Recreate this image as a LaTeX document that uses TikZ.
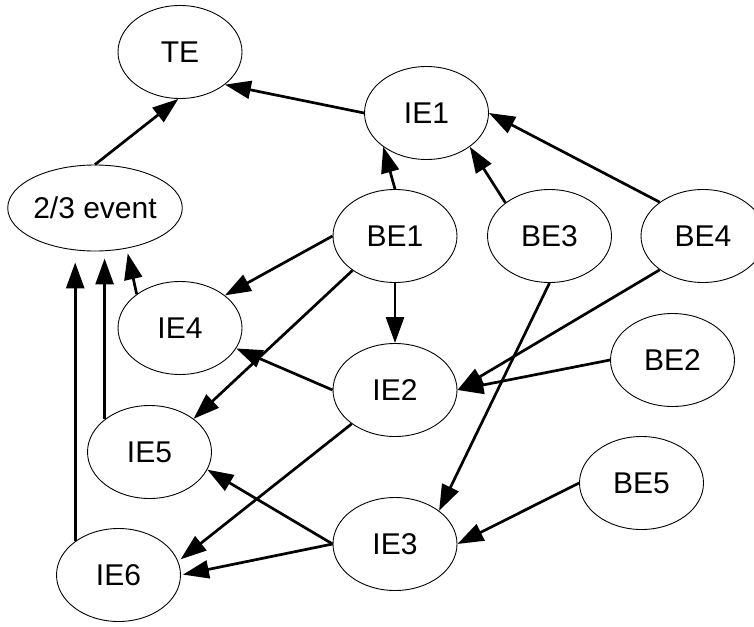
\documentclass[tikz,border=0pt]{standalone}
\usepackage{fontspec}
\setmainfont{Liberation Sans}
\usetikzlibrary{shapes.geometric,arrows.meta}
\begin{document}
\begin{tikzpicture}[x=1pt,y=-1pt,
  ev/.style={ellipse,draw,line width=0.9pt,inner sep=0pt,
    minimum width=124pt,minimum height=93pt,
    font=\fontsize{30}{34}\selectfont},
  arr/.style={line width=2.7pt,-{Triangle[length=26pt,width=18pt]}}]
\useasboundingbox (0,0) rectangle (754,626);
\clip (0,0) rectangle (754,626);

% events
\node[ev] (TE)  at (180,52)    {TE};
\node[ev,minimum width=170pt,minimum height=86pt] (vote) at (95,208) {2/3 event};
\node[ev] (IE1) at (426.5,113) {IE1};
\node[ev] (BE1) at (395,236)   {BE1};
\node[ev] (BE3) at (549.5,236) {BE3};
\node[ev] (BE4) at (703,236)   {BE4};
\node[ev] (IE4) at (180,328)   {IE4};
\node[ev] (IE2) at (395,390)   {IE2};
\node[ev] (BE2) at (672.5,360) {BE2};
\node[ev] (IE5) at (149.5,452) {IE5};
\node[ev] (BE5) at (641.5,483) {BE5};
\node[ev] (IE3) at (395,544)   {IE3};
\node[ev] (IE6) at (118.5,575) {IE6};

% connectors
\draw[arr] (IE1.180) -- (TE.-36);
\draw[arr] (vote.north) -- (TE.-92);
\draw[arr] (BE1.north) -- (IE1.-142);
\draw[arr] (BE3.143) -- (IE1.-38);
\draw[arr] (BE4.142.5) -- (IE1.east);
\draw[arr] (BE1.west) -- (IE4.36);
\draw[arr,shorten >=5pt] (IE4.142) -- (vote.-52);
\draw[arr,shorten >=7pt] (IE5.144.6) -- (IE5.144.6 |- vote.south);
\draw[arr,shorten >=11pt] (IE6.142.7) -- (IE6.142.7 |- vote.south);
\draw[arr] (BE1.south) -- (IE2.north);
\draw[arr] (BE1.-141.7) -- (IE5.37.4);
\draw[arr] (IE2.west) -- (IE4.-20);
\draw[arr] (BE4.-142.5) -- (IE2.east);
\draw[arr] (BE2.west) -- (IE2.east);
\draw[arr,shorten >=3pt] (IE2.-142.5) -- (IE6.13);
\draw[arr,shorten >=2pt] (IE3.west) -- (IE6.east);
\draw[arr] (IE3.west) -- (IE5.-17);
\draw[arr] (BE3.south) -- (IE3.37);
\draw[arr] (BE5.west) -- (IE3.east);
\end{tikzpicture}
\end{document}
